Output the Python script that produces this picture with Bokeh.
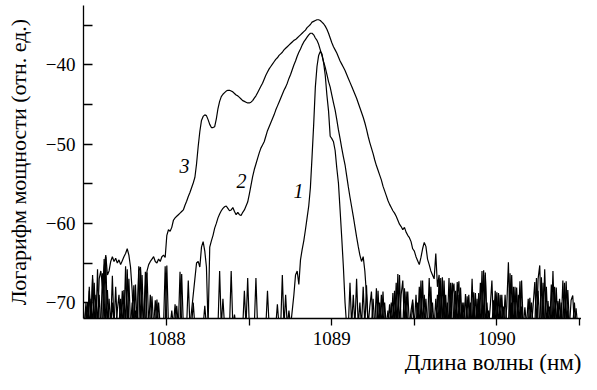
import numpy as np
from bokeh.plotting import figure
from bokeh.models import FixedTicker, Title
from bokeh.core.properties import value
from bokeh.embed import file_html
from bokeh.resources import INLINE

# wavelength grid of the spectra (nm)
WL_START = 1087.50
WL_STEP = 0.01

# curve 1 (narrow) log power, one value per grid step
P1 = [
    -73, -70.5, -73, -68.5, -73, -67, -73, -73, -65.8, -73,
    -73, -66.3, -73, -64.2, -73, -69.5, -73, -66.6, -73, -73,
    -71, -69, -73, -68.5, -73, -65.4, -73, -67, -73, -73,
    -67.8, -73, -73, -65.4, -73, -66.5, -73, -73, -66.2, -73,
    -69, -73, -73, -69.7, -73, -70, -73, -73, -73, -65.4,
    -73, -73, -73, -71, -73, -70.2, -73, -73, -66.1, -73,
    -73, -73, -73, -67.2, -73, -73, -70, -73, -73, -73,
    -73, -73, -73, -70.4, -73, -73, -73, -73, -73, -73,
    -73, -73, -66, -73, -69.5, -73, -73, -73, -73, -66,
    -73, -71.5, -73, -73, -73, -73, -73, -68.5, -73, -66.9,
    -73, -73, -73, -73, -66.9, -73, -73, -73, -73, -73,
    -73, -68.5, -73, -73, -73, -73, -73, -70.2, -73, -73,
    -66.5, -73, -69, -73, -71, -73, -71, -69, -66.5, -66,
    -67.7, -64.6, -63.3, -62.2, -60.8, -59.3, -57.8, -55.5, -51.6, -47.5,
    -42.8, -40.2, -38.8, -38.3, -38.6, -39.7, -41.3, -43.8, -45.8, -49,
    -49.3, -49.7, -50.8, -53, -54.9, -58.3, -61.8, -65.5, -70, -73,
    -73, -67.5, -73, -69, -73, -67, -73, -70, -73, -68,
    -73, -67.8, -73, -70.5, -68.6, -73, -73, -68.2, -73, -70,
    -73, -68.6, -73, -73, -71, -73, -70, -73, -68.5, -73,
    -66.4, -73, -69, -67.2, -73, -68.6, -73, -73, -71, -69.6,
    -73, -73, -70, -73, -67.2, -73, -69, -73, -73, -66.9,
    -73, -70, -73, -73, -69, -73, -66.9, -73, -67.2, -73,
    -73, -66.9, -73, -69, -67.6, -73, -67.4, -73, -68.1, -73,
    -70, -73, -73, -69, -73, -67, -73, -68.8, -73, -70,
    -73, -66, -73, -66.2, -73, -73, -70.5, -67.2, -73, -69.5,
    -73, -68.8, -73, -69, -73, -73, -70.5, -64.9, -73, -66.5,
    -73, -73, -68.1, -73, -67.3, -73, -73, -70.6, -73, -69.5,
    -73, -73, -70.3, -67.4, -73, -67, -65.3, -73, -73, -65.8,
    -73, -69.8, -73, -73, -66, -73, -68.1, -73, -69.5, -73,
    -67.2, -73, -67.3, -73, -73, -69.7, -69.1, -73, -70.7, -73,
    -73,
]

# curve 2 (middle)
P2 = [
    -73, -73, -70, -73, -69.5, -73, -67.5, -73, -73, -69,
    -73, -73, -64.5, -73, -68.4, -73, -73, -70, -73, -68,
    -73, -73, -69.5, -73, -68.4, -73, -65.8, -73, -73, -70,
    -73, -67.7, -73, -73, -65.5, -73, -73, -66.1, -73, -73,
    -73, -69.2, -73, -73, -69.6, -73, -73, -73, -73, -73,
    -65.3, -73, -73, -73, -73, -73, -70.4, -73, -73, -66.4,
    -73, -73, -73, -73, -73, -71, -69, -67, -65, -64.8,
    -65.5, -63, -62.3, -63.5, -65.5, -73, -63, -62.2, -61.5, -60.6,
    -60, -59.3, -58.8, -58.4, -58.1, -57.9, -57.8, -58.1, -58.4, -58.3,
    -58, -58.5, -58.9, -58.6, -58.9, -59, -58.6, -58.3, -57.8, -57.3,
    -56.3, -55.2, -54.1, -53.2, -52.5, -51.8, -51.1, -50.5, -50.1, -49.7,
    -49, -48.3, -47.8, -47.3, -46.8, -46.3, -45.7, -45.2, -44.7, -44.2,
    -43.7, -43.2, -42.8, -42.3, -41.7, -41.2, -40.6, -40, -39.5, -38.9,
    -38.4, -38, -37.5, -37.1, -36.8, -36.5, -36.2, -36, -36, -36.2,
    -36.6, -36.9, -37.4, -38.1, -38.8, -39.6, -40.3, -41.2, -42.1, -42.8,
    -43.8, -44.8, -45.7, -46.9, -48.2, -49.3, -50.5, -51.6, -52.6, -54,
    -55.4, -56.7, -57.9, -59.1, -60.4, -61.7, -62.9, -64, -64.8, -64.2,
    -66, -69, -73, -73, -73, -69.5, -73, -73, -68.5, -73,
    -69, -73, -70, -73, -73, -70.2, -73, -68.8, -73, -67.5,
    -73, -66.5, -73, -73, -68.2, -73, -68.6, -73, -73, -70,
    -73, -69, -73, -68, -73, -67.2, -73, -69.5, -73, -73,
    -68, -73, -73, -69.5, -73, -67, -73, -73, -68.5, -73,
    -70, -73, -67.5, -73, -73, -68.5, -73, -69, -73, -71,
    -73, -68.9, -73, -73, -70, -73, -68.7, -73, -73, -68.8,
    -73, -73, -65.9, -73, -70, -73, -73, -73, -69.7, -73,
    -68.7, -73, -69, -73, -70.5, -73, -73, -73, -66.3, -73,
    -68, -73, -73, -69, -73, -67.2, -73, -73, -73, -73,
    -69.4, -73, -73, -73, -66.9, -73, -73, -66.8, -73, -73,
    -68, -73, -70.5, -73, -73, -68, -73, -69.8, -73, -73,
    -73, -67.5, -73, -68.4, -73, -73, -73, -70, -73, -73,
    -73,
]

# curve 3 (broad)
P3 = [
    -73, -70, -73, -68, -73, -66.5, -73, -69, -73, -67,
    -66, -68, -65.5, -64, -66.5, -66, -64.8, -64.2, -64.8, -64.4,
    -65, -64.6, -65.2, -64.7, -64.2, -63.8, -63.2, -64, -65.5, -68.5,
    -73, -71, -73, -66, -65.5, -70, -73, -68, -66, -65.2,
    -64.8, -64.5, -64.2, -64.8, -65, -64.5, -64.8, -64.2, -64, -64.3,
    -61.5, -60.8, -61, -60.5, -59.6, -59.3, -59.1, -58.9, -58.7, -58.5,
    -58.3, -57.7, -57.2, -56.6, -56.1, -55.5, -54.9, -54.2, -52.5, -50.3,
    -48.4, -47, -46.5, -46.3, -46.4, -46.9, -47.5, -47.9, -47.9, -47.8,
    -46.8, -45.5, -44.6, -44, -43.7, -43.5, -43.3, -43.2, -43.2, -43.3,
    -43.4, -43.6, -43.8, -43.9, -44.1, -44.3, -44.5, -44.6, -44.7, -44.8,
    -44.8, -44.7, -44.5, -44.2, -43.9, -43.5, -43.1, -42.7, -42.3, -41.8,
    -41.3, -40.9, -40.5, -40.2, -39.9, -39.6, -39.3, -39.1, -38.8, -38.6,
    -38.4, -38.1, -37.9, -37.7, -37.5, -37.3, -37.1, -36.9, -36.8, -36.6,
    -36.4, -36.2, -36, -35.8, -35.6, -35.3, -35.1, -34.9, -34.6, -34.5,
    -34.4, -34.3, -34.3, -34.4, -34.6, -34.8, -35.1, -35.5, -36, -36.6,
    -37.2, -37.7, -38.1, -38.5, -39, -39.5, -39.9, -40.3, -40.7, -41.2,
    -41.7, -42.2, -42.7, -43.2, -43.7, -44.2, -44.8, -45.4, -46, -46.6,
    -47.3, -48.1, -49, -49.8, -50.5, -51.2, -52, -52.7, -53.3, -53.9,
    -54.5, -55.3, -55.9, -56.5, -57.1, -57.6, -58, -58.4, -58.7, -59.1,
    -59.6, -60.1, -60.4, -60.8, -60.5, -61.1, -61.5, -61.8, -62.3, -63.2,
    -63.5, -64.2, -64.7, -65.2, -64.3, -63.2, -62.4, -62.9, -64.5, -65.2,
    -66, -66.5, -67, -63.8, -68, -66.5, -73, -66.8, -73, -69,
    -73, -73, -70, -67.5, -73, -73, -69.5, -67.3, -73, -70,
    -73, -73, -69.2, -73, -73, -73, -70.5, -73, -69.5, -73,
    -67.5, -73, -73, -66.5, -73, -71, -73, -73, -73, -68.5,
    -73, -73, -71, -73, -73, -69, -73, -73, -73, -70,
    -73, -68, -73, -73, -73, -70.5, -73, -73, -73, -73,
    -73, -70, -73, -73, -73, -68.5, -73, -73, -67.5, -73,
    -73, -73, -73, -67.7, -73, -73, -73, -70, -73, -70,
    -73, -73, -73, -71, -73, -73, -73, -73, -73, -73,
    -73,
]

LABEL_TEXT = ["1", "2", "3"]
LABEL_WL = [1088.798, 1088.453, 1088.107]
LABEL_P = [-55.9, -54.6, -52.7]

X_TICKS = [1088, 1089, 1090]
X_MINOR = [1088.5, 1089.5, 1090.5]
Y_TICKS = [-70, -60, -50, -40]
Y_MINOR = [-65, -55, -45, -35]
Y_TICK_LABELS = ["\u221270", "\u221260", "\u221250", "\u221240"]
X_LABEL = "Длина волны (нм)"
Y_LABEL = "Логарифм мощности (отн. ед.)"

FONT = "Liberation Serif"
X_MIN, X_MAX = 1087.495, 1090.513
Y_MIN, Y_MAX = -72, -32.5

wl = WL_START + WL_STEP * np.arange(len(P1))

p = figure(width=581, height=374,
           x_range=(X_MIN, X_MAX), y_range=(Y_MIN, Y_MAX),
           output_backend="svg", toolbar_location=None,
           min_border_left=83, min_border_right=0,
           min_border_top=5, min_border_bottom=30)
p.grid.visible = False
p.outline_line_color = None
p.background_fill_color = "white"
p.border_fill_color = "white"

for series in (P1, P2, P3):
    p.line(wl, series, line_color="black", line_width=1.2)

p.text(x=LABEL_WL, y=LABEL_P, text=LABEL_TEXT,
       text_font=value(FONT), text_font_style="italic",
       text_font_size="20px", text_color="black",
       text_align="center", text_baseline="middle")

for ax in (p.xaxis[0], p.yaxis[0]):
    ax.axis_line_color = "black"
    ax.axis_line_width = 1.3
    ax.major_tick_line_color = "black"
    ax.minor_tick_line_color = "black"
    ax.major_tick_line_width = 1.3
    ax.minor_tick_line_width = 1.3
    ax.major_label_text_font = FONT
    ax.major_label_text_font_size = "19px"
    ax.major_label_text_color = "black"
    ax.axis_label_text_font = FONT
    ax.axis_label_text_font_size = "22px"
    ax.axis_label_text_font_style = "normal"
    ax.axis_label_text_color = "black"

xa = p.xaxis[0]
xa.ticker = FixedTicker(ticks=X_TICKS, minor_ticks=X_MINOR)
xa.major_tick_in = 0
xa.major_tick_out = 7
xa.minor_tick_in = 0
xa.minor_tick_out = 7
xa.major_label_standoff = 6
xa.major_label_text_line_height = 0.8
xa.axis_label = None

ya = p.yaxis[0]
ya.ticker = FixedTicker(ticks=Y_TICKS, minor_ticks=Y_MINOR)
ya.major_tick_in = 9
ya.major_tick_out = 0
ya.minor_tick_in = 9
ya.minor_tick_out = 0
ya.major_label_standoff = 8
ya.major_label_overrides = dict(zip(Y_TICKS, Y_TICK_LABELS))
ya.axis_label = Y_LABEL
ya.axis_label_standoff = 12

p.add_layout(Title(text=X_LABEL, align="right", text_font=FONT,
                   text_font_size="23px", text_font_style="normal",
                   text_color="black", standoff=0, text_line_height=0.8),
             "below")

open("out.html", "w").write(file_html(p, INLINE))
